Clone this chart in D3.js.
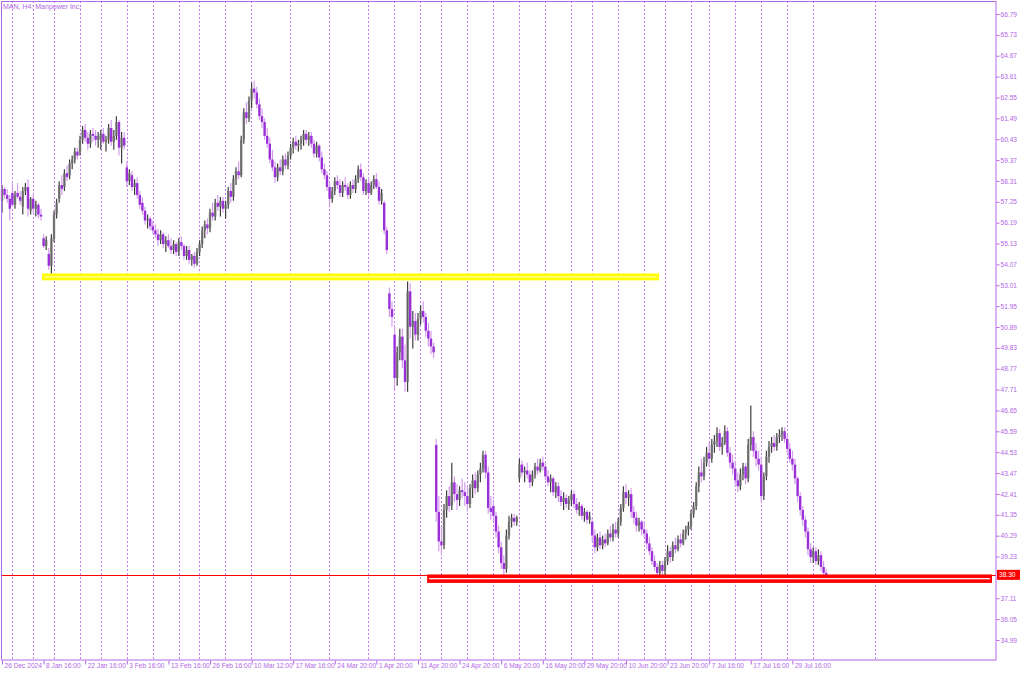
<!DOCTYPE html>
<html><head><meta charset="utf-8">
<script src="https://cdn.jsdelivr.net/npm/d3@7"></script>
<style>body{margin:0;background:#fff}svg{display:block}text{font-family:"Liberation Sans",Arial,sans-serif}</style>
</head><body><svg id="c" width="1024" height="674"></svg>
<script>
const title = "MAN, H4: Manpower Inc.";
const priceTicks = [34.99,36.05,37.11,38.17,39.23,40.29,41.35,42.41,43.47,44.53,45.59,46.65,47.71,48.77,49.83,50.89,51.95,53.01,54.07,55.13,56.19,57.25,58.31,59.37,60.43,61.49,62.55,63.61,64.67,65.73,66.79];
const timeLabels = ["26 Dec 2024","8 Jan 16:00","22 Jan 16:00","3 Feb 16:00","13 Feb 16:00","26 Feb 16:00","10 Mar 12:00","17 Mar 16:00","24 Mar 20:00","1 Apr 20:00","11 Apr 20:00","24 Apr 20:00","6 May 20:00","16 May 20:00","29 May 20:00","10 Jun 20:00","23 Jun 20:00","7 Jul 16:00","17 Jul 16:00","29 Jul 16:00"];
const timeLabelBars = [0,16,32,48,64,80,96,112,128,144,160,176,192,208,224,240,256,272,288,304];
const weekStartBars = [4,12,20,30,38,48,58,68,76,86,96,111,126,141,151,161,169,179,189,199,209,219,227,237,247,255,265,272,282,292,302,312,336];
// [open, high, low, close] per H4 bar
const ohlc = [
[57.3,58.1,56.7,57.9],[57.9,58.0,57.4,57.6],[57.6,57.9,57.2,57.4],[57.4,57.6,56.3,56.9],[57.7,58.3,57.0,57.1],[57.1,57.8,56.9,57.6],[57.7,58.2,57.4,57.5],[57.5,57.8,57.1,57.3],[57.0,58.0,56.6,57.8],[57.8,58.2,57.6,58.0],
[58.0,58.4,56.5,56.9],[56.8,57.5,56.6,57.4],[57.4,57.6,56.7,56.9],[56.9,57.3,56.5,57.1],[57.1,57.2,56.4,56.6],[56.6,56.9,56.3,56.5],[55.4,55.6,54.9,55.0],[55.0,55.5,54.8,55.3],[54.6,54.9,53.8,54.0],[54.0,55.6,53.6,55.4],
[55.4,56.8,55.2,56.6],[56.6,57.4,56.4,57.2],[57.4,58.3,57.2,58.1],[58.1,58.6,57.6,57.9],[58.0,58.9,57.8,58.7],[58.7,59.1,58.3,58.5],[58.6,59.4,58.4,59.2],[59.2,59.6,58.9,59.4],[59.4,60.0,59.2,59.8],[59.8,60.0,59.4,59.6],
[59.8,60.6,59.6,60.4],[60.4,61.1,60.2,60.9],[60.9,61.2,60.3,60.5],[60.5,60.8,59.9,60.2],[60.2,60.9,60.0,60.7],[60.7,61.0,60.3,60.6],[60.6,60.9,60.1,60.4],[60.4,60.8,60.0,60.6],[60.4,60.9,59.9,60.7],[60.7,61.0,60.2,60.3],
[60.3,60.6,59.8,60.4],[60.4,61.2,60.2,61.0],[61.0,61.4,60.1,60.3],[60.3,60.9,59.9,60.6],[60.6,61.6,60.4,61.3],[61.3,61.4,59.6,60.0],[60.0,60.8,59.2,60.5],[60.5,60.8,59.9,60.1],[59.0,59.3,58.0,58.3],[58.3,58.9,58.1,58.7],
[58.6,58.8,57.8,58.0],[58.0,58.4,57.6,58.2],[58.2,58.5,57.4,57.6],[57.6,57.8,56.9,57.1],[57.2,57.5,56.6,56.8],[56.8,57.0,56.1,56.3],[56.3,56.6,55.9,56.4],[56.4,56.5,55.8,56.0],[56.0,56.3,55.6,55.8],[55.8,56.1,55.4,55.6],
[55.6,55.9,55.0,55.3],[55.3,55.8,55.1,55.6],[55.6,55.7,54.9,55.1],[55.1,55.5,54.7,55.3],[55.3,55.6,54.9,55.0],[55.0,55.4,54.6,54.8],[54.8,55.3,54.6,55.1],[55.1,55.2,54.5,54.7],[54.7,55.4,54.5,55.2],[55.2,55.5,54.8,55.0],
[55.0,55.1,54.3,54.5],[54.5,55.0,54.3,54.8],[54.8,55.0,54.1,54.3],[54.3,54.6,54.0,54.5],[54.5,54.7,53.9,54.1],[54.1,54.9,54.0,54.7],[54.7,55.3,54.5,55.1],[55.1,56.0,54.9,55.8],[55.8,56.3,55.4,56.1],[56.1,56.4,55.6,55.9],
[55.9,56.9,55.7,56.7],[56.7,57.2,56.3,56.5],[56.5,57.4,56.3,57.2],[57.2,57.6,56.8,57.0],[57.0,57.5,56.5,57.3],[57.3,57.5,56.7,56.9],[56.9,57.3,56.4,57.1],[57.1,58.0,56.9,57.8],[57.8,58.2,57.2,57.5],[57.5,58.6,57.3,58.4],
[58.4,59.0,58.1,58.8],[58.8,59.3,58.4,58.6],[58.6,60.6,58.5,60.4],[60.4,62.0,60.2,61.8],[61.8,62.3,61.2,61.5],[61.5,62.6,61.3,62.4],[62.4,63.3,62.0,63.0],[63.0,63.4,62.5,62.8],[62.8,63.1,62.0,62.2],[62.2,62.5,61.4,61.6],
[61.6,62.0,61.0,61.3],[61.3,61.5,60.4,60.6],[60.6,61.0,60.0,60.2],[60.2,60.5,59.2,59.4],[59.4,59.9,58.8,59.0],[59.0,59.3,58.2,58.5],[58.5,59.2,58.3,59.0],[59.0,59.4,58.6,58.8],[58.8,59.6,58.6,59.4],[59.4,59.7,58.9,59.1],
[59.1,59.8,58.9,59.6],[59.6,60.2,59.4,60.0],[60.0,60.5,59.7,60.3],[60.3,60.6,59.9,60.1],[60.1,60.4,59.8,60.2],[60.2,60.6,59.9,60.4],[60.4,60.9,60.1,60.7],[60.7,60.9,60.2,60.4],[60.4,60.8,60.1,60.6],[60.6,60.8,60.0,60.2],
[60.2,60.4,59.5,59.7],[59.7,60.3,59.5,60.1],[60.1,60.2,59.3,59.5],[59.5,59.8,58.7,58.9],[58.9,59.2,58.4,58.6],[58.6,58.8,57.8,58.0],[58.0,58.2,57.1,57.4],[57.4,58.0,57.2,57.8],[57.8,58.5,57.6,58.3],[58.3,58.6,57.9,58.1],
[58.1,58.4,57.5,57.7],[57.7,58.3,57.5,58.1],[58.1,58.5,57.8,58.0],[58.0,58.2,57.4,57.6],[57.6,58.3,57.4,58.1],[58.1,58.4,57.7,57.9],[57.9,58.6,57.7,58.4],[58.4,59.1,58.2,58.9],[58.9,59.2,58.3,58.5],[58.5,58.7,57.6,57.8],
[57.8,58.4,57.6,58.2],[58.2,58.5,57.5,57.7],[57.7,58.3,57.6,58.1],[58.1,58.6,57.9,58.4],[58.4,58.7,57.9,58.0],[58.0,58.3,57.1,57.3],[57.3,57.9,57.1,57.7],[57.2,57.3,55.6,55.8],[55.8,56.0,54.6,54.8],[52.6,52.9,51.4,51.8],
[51.8,52.2,50.9,51.4],[50.5,51.0,47.7,48.3],[48.3,49.9,47.9,49.6],[49.6,50.8,49.2,50.4],[50.4,50.8,48.8,49.2],[49.2,50.0,47.6,48.1],[48.1,53.2,47.6,52.7],[52.7,53.1,50.3,50.9],[50.9,51.7,49.8,51.2],[51.2,51.6,50.2,50.5],
[50.5,51.6,50.2,51.3],[51.3,52.0,51.0,51.7],[51.7,52.2,51.1,51.4],[51.4,51.6,50.4,50.7],[50.7,51.1,49.9,50.3],[50.3,50.7,49.5,49.9],[49.9,50.1,49.3,49.6],[44.9,45.2,41.0,41.5],[41.5,42.3,39.5,40.0],[40.0,40.8,39.3,39.8],
[39.8,41.9,39.6,41.6],[41.6,42.6,41.2,42.3],[42.3,42.8,41.5,41.8],[41.8,44.0,41.6,43.0],[43.0,43.3,42.0,42.4],[42.4,42.9,41.6,42.1],[42.1,42.8,41.8,42.6],[42.6,43.2,42.2,42.5],[42.5,43.0,41.8,42.3],[42.3,42.8,41.5,41.9],
[41.9,42.9,41.7,42.7],[42.7,43.4,42.2,43.1],[43.1,43.5,42.4,42.7],[42.7,43.6,42.5,43.4],[43.4,44.0,43.0,43.7],[43.7,44.6,43.5,44.4],[44.4,44.6,43.2,43.5],[43.5,43.8,41.4,41.7],[41.7,42.3,41.1,41.5],[41.8,42.1,41.0,41.3],
[41.3,41.5,40.2,40.5],[40.5,40.8,39.4,39.7],[39.7,40.0,38.6,38.9],[38.9,39.3,38.2,38.6],[38.6,40.6,38.4,40.3],[40.3,41.3,40.1,41.0],[41.0,41.4,40.7,41.2],[41.2,41.4,40.8,41.0],[41.0,41.3,40.8,41.2],[43.2,44.2,43.0,43.9],
[43.9,44.1,43.3,43.5],[43.5,43.8,43.0,43.6],[43.6,44.0,43.2,43.4],[43.4,43.6,42.7,43.0],[43.0,43.6,42.8,43.4],[43.4,44.0,43.2,43.8],[43.8,44.2,43.4,43.6],[43.6,44.2,43.5,44.0],[44.0,44.3,43.6,43.8],[43.8,44.0,43.1,43.3],
[43.3,43.6,42.8,43.0],[43.0,43.4,42.5,43.2],[43.2,43.3,42.3,42.5],[42.5,43.0,42.2,42.8],[42.8,43.0,42.0,42.3],[42.3,42.6,41.8,42.0],[42.0,42.5,41.6,42.2],[42.2,42.4,41.7,41.9],[41.9,42.3,41.6,42.1],[42.1,42.6,41.8,42.4],
[42.4,42.6,41.7,41.9],[41.9,42.2,41.4,41.6],[41.6,42.0,41.3,41.8],[41.8,41.9,41.1,41.3],[41.3,41.7,41.0,41.5],[41.5,41.6,40.9,41.1],[41.1,41.5,40.9,41.3],[41.0,41.2,40.0,40.3],[40.3,40.6,39.4,39.7],[39.7,40.4,39.5,40.2],
[40.2,40.5,39.6,39.8],[39.8,40.3,39.6,40.1],[40.1,40.4,39.7,39.9],[39.9,40.6,39.8,40.4],[40.4,40.8,40.0,40.2],[40.2,40.9,40.0,40.6],[40.6,41.0,40.2,40.4],[40.4,41.2,40.2,41.0],[41.0,41.9,40.8,41.7],[41.7,42.8,41.5,42.5],
[42.5,42.9,41.9,42.2],[42.2,42.6,41.8,42.4],[42.4,42.7,41.2,41.5],[41.5,41.8,40.9,41.2],[41.2,41.5,40.5,40.8],[40.8,41.2,40.5,41.0],[41.0,41.1,40.3,40.6],[40.6,41.0,40.2,40.4],[40.4,40.6,39.6,39.9],[39.9,40.2,39.3,39.5],
[39.5,39.7,38.8,39.0],[39.0,39.3,38.5,38.7],[38.7,38.9,38.1,38.4],[38.4,39.0,38.2,38.8],[38.8,39.0,38.2,38.5],[38.5,39.2,38.3,39.0],[39.0,39.8,38.8,39.5],[39.5,39.7,38.9,39.2],[39.2,40.0,39.0,39.8],[39.8,40.2,39.4,39.6],
[39.6,40.3,39.5,40.1],[40.1,40.4,39.7,39.9],[39.9,40.6,39.8,40.4],[40.4,40.8,40.1,40.6],[40.6,41.0,40.3,40.8],[40.8,41.6,40.6,41.4],[41.4,42.0,41.2,41.8],[41.8,43.0,41.6,42.8],[42.8,43.8,42.5,43.5],[43.5,44.2,43.0,43.3],
[43.3,44.3,43.1,44.0],[44.0,44.8,43.8,44.5],[44.5,45.0,43.8,44.2],[44.2,45.2,44.0,44.9],[44.9,45.4,44.5,45.1],[45.1,45.8,44.8,45.5],[45.5,45.7,44.6,44.8],[44.8,45.3,44.4,45.0],[45.0,45.9,44.9,45.6],[45.6,45.8,44.3,44.5],
[44.5,44.8,43.7,44.0],[44.0,44.4,43.4,43.7],[43.7,44.1,42.8,43.1],[43.1,43.5,42.5,42.8],[42.8,43.7,42.6,43.4],[43.4,44.0,43.1,43.8],[43.8,44.0,42.9,43.2],[43.2,45.2,43.0,44.9],[44.9,46.9,44.6,45.3],[45.3,45.6,44.3,44.6],
[44.6,45.0,43.8,44.2],[44.2,44.6,43.6,43.9],[43.9,44.3,42.0,42.3],[42.3,43.5,42.1,43.3],[43.3,44.6,43.1,44.3],[44.3,45.1,44.0,44.8],[44.8,45.3,44.5,45.0],[45.0,45.4,44.6,44.8],[44.8,45.5,44.6,45.3],[45.3,45.7,45.0,45.4],
[45.4,45.8,45.1,45.6],[45.6,45.8,45.0,45.2],[45.2,45.4,44.5,44.7],[44.7,45.0,44.0,44.2],[44.2,44.6,43.6,43.9],[43.9,44.2,42.9,43.2],[43.2,43.3,42.0,42.3],[42.3,42.5,41.3,41.6],[41.6,41.8,40.8,41.1],[41.1,41.3,40.2,40.5],
[40.5,40.7,39.3,39.6],[39.6,39.9,38.9,39.2],[39.2,39.7,38.9,39.5],[39.5,39.7,38.8,39.0],[39.0,39.6,38.8,39.3],[39.3,39.5,38.5,38.7],[38.7,39.0,38.2,38.4],[38.4,38.6,38.1,38.3]
];
// drawn rectangles: [fromBar, toBar, topPrice, bottomPrice]
const yellowZone = [15.4, 252.7, 53.61, 53.26];
const redZone = [163.5, 380.8, 38.32, 37.89];
const bidPrice = 38.30;

const svg = d3.select("#c");
const L = 1, R = 996, T = 1, B = 660;
const x = d3.scaleLinear().domain([0, 100]).range([2, 262]);
const y = d3.scaleLinear().domain([34.99, 66.79]).range([640, 14]);
const purple = "#b366e6", gridC = "#c47ef2";

svg.append("rect").attr("width",1024).attr("height",674).attr("fill","#fff");

// weekly grid
svg.append("g").selectAll("line").data(weekStartBars).join("line")
  .attr("x1", d => Math.round(x(d - 0.1)) + 0.5).attr("x2", d => Math.round(x(d - 0.1)) + 0.5)
  .attr("y1", T).attr("y2", B)
  .attr("stroke", gridC).attr("stroke-width", 1).attr("stroke-dasharray", "2,2");

// candles
const cg = svg.append("g");
ohlc.forEach((d, i) => {
  const [o, h, l, c] = d;
  const cx = x(i);
  const up = c >= o;
  cg.append("line").attr("x1", cx).attr("x2", cx).attr("y1", y(h)).attr("y2", y(l))
    .attr("stroke", up ? "#3f3f3f" : "#d49cf0").attr("stroke-width", 1.2);
  const top = y(Math.max(o, c)), bot = y(Math.min(o, c));
  cg.append("rect").attr("x", cx - 1.2).attr("width", 2.4)
    .attr("y", top).attr("height", Math.max(0.9, bot - top))
    .attr("fill", up ? "#858585" : "#9a30d8");
  if (up) cg.append("line").attr("x1", cx).attr("x2", cx).attr("y1", top).attr("y2", Math.max(top + 0.9, bot))
    .attr("stroke", "#505050").attr("stroke-width", 0.7);
});

// bid line
const bidY = Math.round(y(bidPrice));
svg.append("rect").attr("x", L).attr("y", bidY).attr("width", R - L).attr("height", 1)
  .attr("fill", "#ff0000").attr("shape-rendering", "crispEdges");

// zones
function zone(z, color, inner) {
  const x0 = x(z[0]), x1 = Math.min(x(z[1]), 992);
  const y0 = y(z[2]), y1 = y(z[3]);
  svg.append("rect").attr("x", x0).attr("y", y0).attr("width", x1 - x0).attr("height", y1 - y0)
    .attr("fill", color);
  svg.append("rect").attr("x", x0 + 2).attr("y", (y0 + y1) / 2 - 0.6).attr("width", x1 - x0 - 4).attr("height", 1.2)
    .attr("fill", inner);
}
zone(yellowZone, "#ffff00", "#ffffb0");
zone(redZone, "#ff0000", "#ffffff");

// frame
svg.append("rect").attr("x", L + 0.5).attr("y", T + 0.5).attr("width", R - L - 0.5).attr("height", B - T - 0.5)
  .attr("fill", "none").attr("stroke", purple).attr("stroke-width", 1);

// y axis
const yAxis = d3.axisRight(y).tickValues(priceTicks).tickFormat(d => d.toFixed(2)).tickSize(3).tickPadding(1);
const ya = svg.append("g").attr("transform", `translate(${R + 0.5},0)`).call(yAxis);
ya.select(".domain").remove();
ya.selectAll("line").attr("stroke", purple);
ya.selectAll("text").attr("fill", purple).attr("font-size", "6.6px").attr("font-family", "Liberation Sans, Arial, sans-serif");

// x axis
const xAxis = d3.axisBottom(x).tickValues(timeLabelBars).tickFormat((d, i) => timeLabels[i]).tickSize(4).tickPadding(2);
const xa = svg.append("g").attr("transform", `translate(0,${B + 0.5})`).call(xAxis);
xa.select(".domain").remove();
xa.selectAll("line").attr("stroke", purple);
xa.selectAll("text").attr("fill", purple).attr("font-size", "6.6px").attr("text-anchor", "start").attr("dx", "2px").attr("dy", "0.2em")
  .attr("font-family", "Liberation Sans, Arial, sans-serif");

// bid label
const by = y(bidPrice);
svg.append("rect").attr("x", R + 1).attr("y", by - 5).attr("width", 23).attr("height", 10).attr("fill", "#ff0000");
svg.append("text").attr("x", R + 3).attr("y", by + 2.5).attr("fill", "#fff").attr("font-size", "6.6px").text(bidPrice.toFixed(2));

// title
svg.append("text").attr("x", 3).attr("y", 9).attr("fill", purple).attr("font-size", "7px").text(title);
</script></body></html>
